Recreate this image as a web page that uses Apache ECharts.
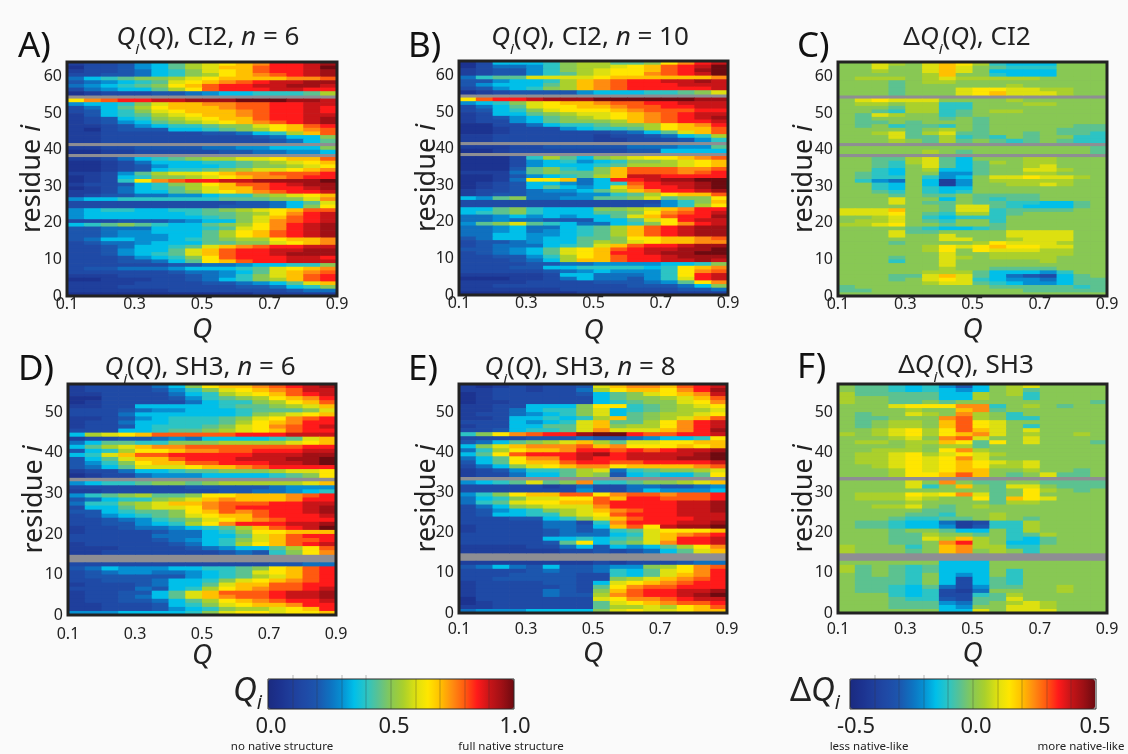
<!DOCTYPE html>
<html><head><meta charset="utf-8">
<style>html,body{margin:0;padding:0;background:#fafafa}#c{width:1128px;height:754px}</style>
<script src="https://cdn.jsdelivr.net/npm/echarts@6/dist/echarts.min.js"></script>
</head><body><div id="c"></div>
<script>
// Each string is one residue row (top row = highest residue), each char one Q bin, level 0..k = 0..20 (value = level/20). '.' = no data
const ci2N6=["2334679bcdefhhij","1334679bceeghhik","2334578acdeghhij","3344578abdefghij","5789aabcdeeeeffg","456789cdefghiijj","56789adeghhiijji","356779bdghhhiihh","123334456778889b","................","dfghhiijjjkkkjji","6778aceeffgghhii","3579bdeeefgghhih","3478acdeeefghhih","24789bcdeefghhii","23478abcdeeghhij","234679abcdefghij","223467889aacdegh","2134447789abdefg","2233333344578beg","223333333334577a","2233333333334579","................","223344445566777a","1122333334455667","................","2235789abbccdeeg","11235777889abcde","11234677789aabcd","112347889abccdef","22369bccdeffgggh","12378aabcdeffghh","1238dfghhiijjjjk","233478abdegghijj","1235789bceeghhij","2235779acdefghhi","23445566788abcde","677888888999aacf","333333333344579c","33333333344457ad","678877889abcdegg","6777777899abdfhi","6777777789aceghi","3334445677acfghi","789a98779abdfhij","4455577789cdfhij","445667779bdeghij","445666779bdeghij","457766789abbdeef","3455677799aacdef","33457789cefghhii","3346779ceghhiijj","3346789ceghhijjj","3334678adghhhiih","33344579deghhiii","333333445567788a","344555677789cdef","333333455679cefg","22233334568acegh","11222334578abegh","22223333445679ce","222333333344578a","2222223333333455","1111111111122222"];
const ci2N10=["137778abb99adfhi","135568abbcdeghik","234468abcddeghjk","2344689bcddfghik","5899ccccdeeeeeef","446778befghhiiji","467779befghhhiii","34678abefghhhhhi","12344446777889ac","................","dghhijjjkkkkkkjj","678acdeefgghhiii","3579cddeefgghhii","3478acdddefggghh","23779abccdefghii","234679abcdefghij","233679aaabefghhi","113357889aabdefh","11233367889bdeeg","1123333334579ceg","223333332334578b","2233333322333468","................","2223344444555669","1123333333447777","................","11138b97abcddefg","1113678678aabcde","1113677789bbbcde","11149a87aegggffg","22259a99aegggfgh","11246789beiihhhh","1125dde57hhijjkk","1234776578ghiijk","123479767cfhhijk","233456679befhhij","23445556689bdeeg","769a556699ac9aad","33333333333368ae","33333333333468bd","779a8777aabcefhh","789a877799adfghi","5567676779ceghhj","55655444779cdhii","69ac9875578adfhi","556755789beghijj","556756789beghijj","557766789beghijj","457767799addeefg","34456779bacdeeff","34555789ceghhijj","445679cdeghiijjk","345679cdehhijjkk","334468bdeghhijjj","333457beeghhiiji","333344556666778a","3334477888878def","3333345676668dfg","2222237755568dhi","1112235755468chi","22223333444569df","223333333344457a","2222223333333445","1111111222222222"];
const ci2Delta=["aacbacedb8777aaa","aacaaceca9888aaa","aabaaceca7777aaa","aaaaabeaa8777aaa","abbbabcbbbbbaaaa","aaa9abbaaaaaaaaa","aaa9aaaaaabaaaaa","aaa9aaacddccbbaa","aaa9aaacdecccbaa","................","acdcccaaaabaaaaa","abbabb88aaabbaaa","aaa9bb88aaaaaaaa","aa98bb89abbaaaaa","a9cbaa89aaaaaaaa","a9aaaa9a9aaaaaaa","a99a9aaa9aaaaaaa","a9a8998a9aaaaa99","aaaa9aba9aaaa999","aabc9bc99aa9a998","aaac99b898a9aa88","aaaba9b9a989a988","................","aaaaaaaaaaaaaaa9","aaaaaba9aaaaaaa9","................","aa99bc97aaabbaaa","aa98bc979babbaaa","aa98ac979aabcaaa","aa87ab779aaccbaa","a987aa669aabbaaa","a988a867accdccba","a865a726abbbbbaa","aa87a726aabbcbaa","aa87a877aaaaaaaa","aa98a878aaaaaaaa","aaa9a99a9999aaaa","aaacaa7a9899aaaa","aaaca99a9988779a","aaaaaa9cc987779a","ccceaa9cc89999aa","cccda98bb89aaaaa","aabca87888aaaaaa","abbca98aa8aaaaaa","bbcdaa9aa9aaaaaa","aaaa987789aaaaaa","aaac99aaaaccccaa","aaacaacaaaccccaa","aaaaaaccaabcccaa","aaa9aaaabdcccbaa","aaaaabdcdeddccaa","aaaaabdadcccbbaa","aaaaaacaabbbbbaa","aaa9aacbabbbbaaa","aaa8aacaaaaabaaa","aaaaaacaaaaaaaaa","aaaaaabaa9999aaa","aaaaabbb977768aa","aaa99cec9754379a","aaa9acdc87665799","aaaaabcc98766799","9aaaaaaaa9999989","99aaaaaaaaa99999","aaaaaaaaaaaaaaaa"];
const sh3N6=["2333357adeefghij","23333468acdefgii","223333578bcdeghi","1133334689abdefh","12333335788abdeg","223377777899abce","33345667778999ac","33357777778abcde","2234678889acdfgh","2335778889bdefhh","233478889acdfghi","33377899abcdeghh","7bcdeggggghhhiii","23344565777789ce","579988aaabbbbcde","79bceffggggggghh","478bddeffgghhhii","78cegghhhhhiiijj","479ceeghhhiiijjk","468adeegghhhiijk","4579cccdeefghhhh","233577899aaabccd","12335666777789ad","................","67889aa9abbbbbce","3333333444445666","2233333334455678","689ab99addeeefgh","45788abcefeeefhh","588abceefggghhii","3779bccdfghhhhij","447899adegfghhij","346789acdeeghhhi","3345689acdefghhh","3344678bdfhhhiij","2334556789beghik","2333345578addeee","33333555779ceghh","3333345678aceggh","2333334578bdeghi","2223333456779bdg","2233333334548adf","................","................","3333333333334455","45766677889adegh","34566556789cdegh","34444446789bcegh","334445778acdefgh","233345779ceegghh","33335478bdefgghi","2334479ceggghiij","2334579cefgghiij","23344579bdefghhi","22333478acdeefhh","223334678abbcdeh","66677778acddcdde"];
const sh3N8=["21232334ceffeghi","22332335bdeedfhj","1233333479acdefi","1233333379aabceg","12233333789aacdf","2233777add89abcd","2235788ac789abbc","2335678ac79abbcd","22377878be9abceg","3337678ce99bdfhi","2337799ceabbdfhi","3347889cfcccefhj","8adfghhjkkhgghhi","333344454456778d","4579abceb9ccddee","7acefffgefdddede","58bdeefhhghghiij","79dghhhijhiiiijk","579dffhihhiiijjk","479deeghhgghhhhi","357acdeffdeeeefg","2346889bc589aabc","2335779ba478779d","................","6789c9af889aabce","3333323533554456","3333333633576667","68adeeggdfggfggh","578accddgehhgggh","589cddeeghhhhiij","357abcccfhhhhiij","34678abcefghhiij","347788bcdghhhiii","3334478aceghhhii","333335538fhhhiij","233335547egdijjk","23333454589cddde","33333455578cefgh","33333778789cehhi","3333349d79acfhhi","2222335747679bdf","22222233434579ce","................","................","2222222232333455","45754744566abdfg","333345445879cdfh","333444433879cefh","334444433abcefgh","233334437cdefghh","233333439dfgghhh","23333543aeghhiij","23333544bfghhijk","13333333cdffghii","123333339cdefggh","223333339bbcbdeg","56667777acdccdee"];
const sh3Delta=["a99878647abcaaaa","a99878767ab9aaaa","b9999977bab8aaaa","baa99977baa8aaaa","baa99a9aaaaaaaa9","aaacdddff8aba9aa","aaaabaaef9aaaaaa","a9aacbafba8aaaaa","a99aaafgba88aaaa","a9abbaegdcaaaaaa","a9abbaegdca8aaaa","aabcdbdgecacaaaa","babcdbdefcabaaba","aaabcafgcaacaaaa","abbabbed9dacaaa9","aaaababb9aaaaaaa","aabbbadfbaaaaaaa","abbcdbcdcbaaaaaa","abbcdcdfcaaaaaaa","abbcdcdedcbcaaaa","aabcdcdedbbcaaaa","aaabdcdeeaabaa9a","aaabddegea9ac99a","................","aaaacafa99aa9999","aaaac8aea9cca999","aaaaaaaaa9adba9a","abbbdcdfc9adaaaa","abbbcbaad9edcaaa","aaaabaaaa9bbaaaa","aabbca9abaaaaaaa","aaaaa99aaaaaaaaa","aaaa998aabaaaaaa","aaa98899aba9aaaa","a9987752388baaaa","a9987762488baaaa","aaa9aa977a8baaaa","aaa99baa9a89baaa","aaa99cbeba879aaa","aaa99afhba779aaa","baaa8aefbb88aaaa","baaa9aefaba8aaaa","................","................","aaaaaa777aaaaaaa","b9a989777aaaaaaa","b9a989777a8aaaaa","a9a98a767a8aaaaa","a9998a73798aaaaa","a9998a73798aaaaa","a9987953699aabaa","a99878325aaaabaa","aaa8783389baaaaa","aaa9884399caaaaa","aaa999659abcbaaa","aaa99976aaccbaaa","aaaaaa77cacccaaa"];
const titles=["A","B","C","D","E","F"];
const qTickLabels=["0.1","0.3","0.5","0.7","0.9"];
const qiLabels=["0.0","0.5","1.0"];
const dqLabels=["-0.5","0.0","0.5"];
const colors=['#1b2a80','#1c3390','#1f3f9c','#1f4aa6','#1c56ae','#0f70bf','#068fd2','#00bfe9','#2cc4c4','#5cc290','#88c854','#aad02c','#dde010','#ffe600','#ffc000','#ff8c10','#ff5a10','#ff1a1a','#c81518','#a01015','#6e0a10'];
const FONT='"Noto Sans"';

const panels=[
 {rows:ci2N6,delta:0,n:'6',prot:'CI2',l:67,r:337,t:62,b:296,max:64,tc:208,ty:37,lx:18,ly:47,xp:0,ng:20,nx:21},
 {rows:ci2N10,delta:0,n:'10',prot:'CI2',l:459,r:728,t:61,b:295,max:64,tc:590,ty:37,lx:408,ly:47,xp:0,ng:22,nx:18},
 {rows:ci2Delta,delta:1,prot:'CI2',l:838,r:1107,t:62,b:296,max:64,tc:967,ty:37,lx:797,ly:47,xp:0,ng:20,nx:20},
 {rows:sh3N6,delta:0,n:'6',prot:'SH3',l:68,r:336,t:384,b:615,max:57,tc:200,ty:367,lx:18,ly:370,xp:5.5,ng:27,nx:20,pad:6},
 {rows:sh3N8,delta:0,n:'8',prot:'SH3',l:459,r:727,t:384,b:613,max:57,tc:580,ty:367,lx:408,ly:370,xp:4.4,ng:27,nx:18},
 {rows:sh3Delta,delta:1,prot:'SH3',l:838,r:1107,t:384,b:613,max:57,tc:966,ty:365,lx:797,ly:368,xp:4.4,ng:27,nx:20}
];
const mk=(size,italic,extra)=>Object.assign({fontFamily:FONT,fontSize:size,fontWeight:'normal',fontStyle:italic?'italic':'normal',color:'#222'},extra||{});
const rich={n:mk(26,0,{lineHeight:38}),it:mk(26,1,{lineHeight:38}),sub:mk(15,1,{lineHeight:16,verticalAlign:'bottom'})};
const legRich={n:mk(33,0,{lineHeight:42}),it:mk(33,1,{lineHeight:42}),sub:mk(20,1,{lineHeight:22,verticalAlign:'bottom'})};
const opt={animation:false,backgroundColor:'#fafafa',grid:[],xAxis:[],yAxis:[],series:[],title:[],graphic:[],
 visualMap:[
  {type:'continuous',min:0,max:1,seriesIndex:[0,1,3,4],dimension:2,calculable:false,show:true,orient:'horizontal',left:268,top:679,itemWidth:30,itemHeight:246,padding:0,text:['',''],showLabel:false,inRange:{color:colors}},
  {type:'continuous',min:-0.5,max:0.5,seriesIndex:[2,5],dimension:2,calculable:false,show:true,orient:'horizontal',left:850,top:679,itemWidth:30,itemHeight:245,padding:0,text:['',''],showLabel:false,inRange:{color:colors}}
 ]};
function cell(params,api){
 const c=api.value(0),r=api.value(1);
 const a=api.coord([c,r+1]),b=api.coord([c+1,r]);
 return {type:'rect',shape:{x:a[0],y:a[1],width:b[0]-a[0]+.6,height:b[1]-a[1]+.6},style:{fill:api.visual('color')}};
}
panels.forEach((p,i)=>{
 const data=[];
 p.rows.forEach((s,k)=>{const row=p.max-1-k;
  [...s].forEach((ch,col)=>{ if(ch==='.')return;
   data.push([col,row,parseInt(ch,21)/20-(p.delta?0.5:0)]);});});
 opt.grid.push({left:p.l,top:p.t,width:p.r-p.l,height:p.b-p.t,show:true,backgroundColor:'#8e8e93',borderWidth:0});
 opt.xAxis.push({type:'value',gridIndex:i,min:0,max:16,interval:4,splitLine:{show:false},axisLine:{show:false},axisTick:{show:false},
  axisLabel:{margin:p.xp,fontFamily:FONT,fontSize:16,color:'#222',formatter:v=>qTickLabels[v/4],padding:[p.xp,0,0,0]},
  name:'{it|Q}',nameLocation:'middle',nameGap:p.ng,nameMoveOverlap:false,nameTextStyle:{rich:{it:mk(28,1)}}});
 opt.yAxis.push({type:'value',gridIndex:i,min:0,max:p.max,interval:10,splitLine:{show:false},axisLine:{show:false},axisTick:{show:false},
  axisLabel:{margin:5,fontFamily:FONT,fontSize:16,color:'#222',showMaxLabel:false,padding:p.pad?[p.pad,0,0,0]:0},
  name:'{n|residue }{it|i}',nameLocation:'middle',nameRotate:90,nameGap:p.nx,nameMoveOverlap:false,
  nameTextStyle:{rich:{n:mk(27,0),it:mk(27,1)}}});
 opt.series.push({type:'custom',coordinateSystem:'cartesian2d',xAxisIndex:i,yAxisIndex:i,data,renderItem:cell,clip:true,silent:true,
  encode:{x:0,y:1},dimensions:['q','residue','value']});
 const head=p.delta?'{n|\u0394}{it|Q}{sub|i}{n|(}{it|Q}{n|), '+p.prot+'}'
   :'{it|Q}{sub|i}{n|(}{it|Q}{n|), '+p.prot+', }{it|n}{n| = '+p.n+'}';
 opt.title.push({text:head,left:p.tc,top:p.ty-18,textAlign:'center',padding:0,textStyle:{rich}});
 opt.title.push({text:titles[i]+')',left:p.lx,top:p.ly-13,padding:0,textStyle:{fontFamily:FONT,fontSize:35,fontWeight:'normal',color:'#111',lineHeight:26}});
 opt.graphic.push({type:'rect',z:50,silent:true,shape:{x:p.l,y:p.t,width:p.r-p.l,height:p.b-p.t},style:{fill:'none',stroke:'#222',lineWidth:3}});
});
const legendText=(txt,x,y,size)=>opt.graphic.push({type:'text',z:50,silent:true,x,y,style:{text:txt,fontFamily:FONT,fontSize:size,fill:'#222',align:'center',verticalAlign:'middle'}});
[[268,qiLabels,'no native structure','full native structure',282,511,[271,394,515]],[850,dqLabels,'less native-like','more native-like',869,1081,[856,976,1095]]].forEach(([x0,labs,lo,hi,lox,hix,px])=>{
 labs.forEach((t,j)=>legendText(t,px[j],727,22));
 legendText(lo,lox,747,11.5);
 legendText(hi,hix,747,11.5);
 opt.graphic.push({type:'rect',z:50,silent:true,shape:{x:x0,y:679,width:246,height:30},style:{fill:'none',stroke:'#2a2a2a',lineWidth:1}});
 for(let d=1;d<10;d++){const lx=Math.round(x0+24.6*d);
  opt.graphic.push({type:'line',z:50,silent:true,shape:{x1:lx,y1:d<5?675:679,x2:lx,y2:709},style:{stroke:'#333',lineWidth:.6,opacity:.55}});}
});
opt.title.push({text:'{it|Q}{sub|i}',left:262,top:671,textAlign:'right',padding:0,textStyle:{rich:legRich}});
opt.title.push({text:'{n|\u0394}{it|Q}{sub|i}',left:840,top:671,textAlign:'right',padding:0,textStyle:{rich:legRich}});
const chart=echarts.init(document.getElementById('c'),null,{renderer:'canvas'});
chart.setOption(opt);
</script></body></html>
